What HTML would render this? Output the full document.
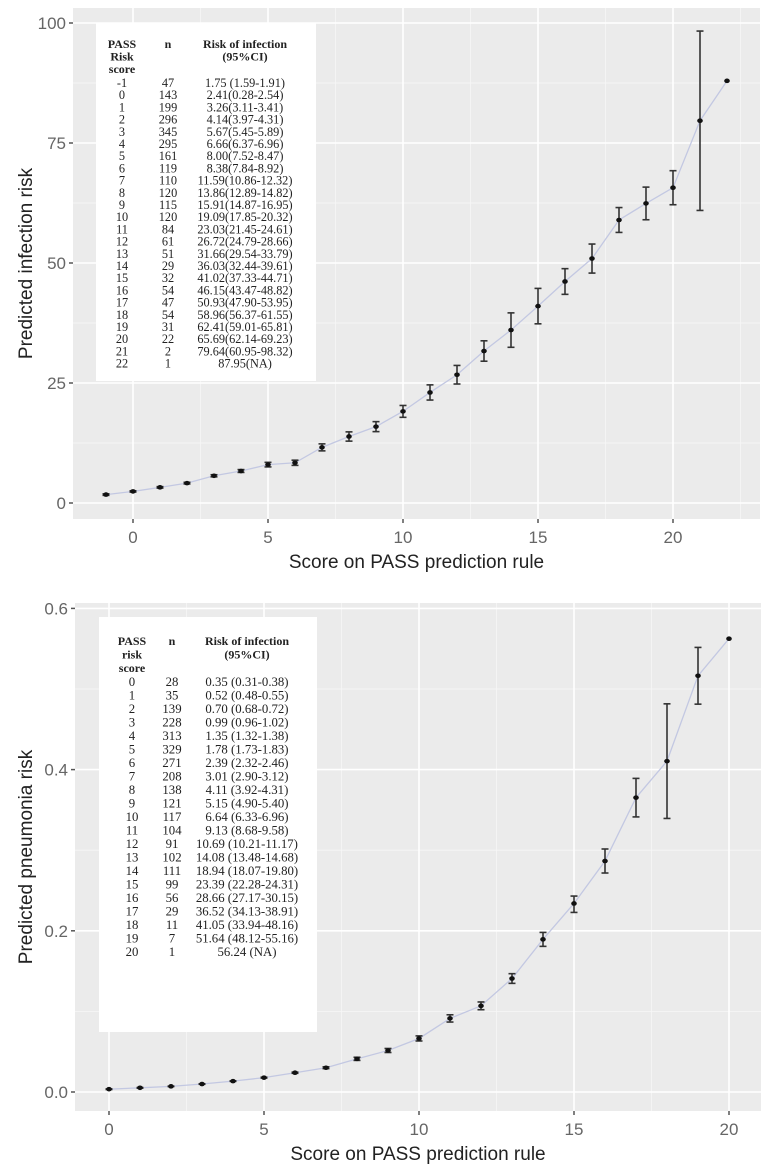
<!DOCTYPE html>
<html><head><meta charset="utf-8"><style>
body{margin:0;background:#fff;}
svg{display:block;font-family:"Liberation Sans",sans-serif;}
.tbl{font-family:"Liberation Serif",serif;fill:#222;}
</style></head><body>
<svg id="c" width="771" height="1166"></svg>
<script>
// top chart data
const topScores=[-1,0,1,2,3,4,5,6,7,8,9,10,11,12,13,14,15,16,17,18,19,20,21,22];
const topN=[47,143,199,296,345,295,161,119,110,120,115,120,84,61,51,29,32,54,47,54,31,22,2,1];
const topRisk=[1.75,2.41,3.26,4.14,5.67,6.66,8.00,8.38,11.59,13.86,15.91,19.09,23.03,26.72,31.66,36.03,41.02,46.15,50.93,58.96,62.41,65.69,79.64,87.95];
const topLo=[1.59,2.28,3.11,3.97,5.45,6.37,7.52,7.84,10.86,12.89,14.87,17.85,21.45,24.79,29.54,32.44,37.33,43.47,47.90,56.37,59.01,62.14,60.95,null];
const topHi=[1.91,2.54,3.41,4.31,5.89,6.96,8.47,8.92,12.32,14.82,16.95,20.32,24.61,28.66,33.79,39.61,44.71,48.82,53.95,61.55,65.81,69.23,98.32,null];
const topTxt=["1.75 (1.59-1.91)","2.41(0.28-2.54)","3.26(3.11-3.41)","4.14(3.97-4.31)","5.67(5.45-5.89)","6.66(6.37-6.96)","8.00(7.52-8.47)","8.38(7.84-8.92)","11.59(10.86-12.32)","13.86(12.89-14.82)","15.91(14.87-16.95)","19.09(17.85-20.32)","23.03(21.45-24.61)","26.72(24.79-28.66)","31.66(29.54-33.79)","36.03(32.44-39.61)","41.02(37.33-44.71)","46.15(43.47-48.82)","50.93(47.90-53.95)","58.96(56.37-61.55)","62.41(59.01-65.81)","65.69(62.14-69.23)","79.64(60.95-98.32)","87.95(NA)"];
const topYTicks=[0,25,50,75,100];
const topXTicks=[0,5,10,15,20];
// bottom chart data
const botScores=[0,1,2,3,4,5,6,7,8,9,10,11,12,13,14,15,16,17,18,19,20];
const botN=[28,35,139,228,313,329,271,208,138,121,117,104,91,102,111,99,56,29,11,7,1];
const botRisk=[0.35,0.52,0.70,0.99,1.35,1.78,2.39,3.01,4.11,5.15,6.64,9.13,10.69,14.08,18.94,23.39,28.66,36.52,41.05,51.64,56.24];
const botLo=[0.31,0.48,0.68,0.96,1.32,1.73,2.32,2.90,3.92,4.90,6.33,8.68,10.21,13.48,18.07,22.28,27.17,34.13,33.94,48.12,null];
const botHi=[0.38,0.55,0.72,1.02,1.38,1.83,2.46,3.12,4.31,5.40,6.96,9.58,11.17,14.68,19.80,24.31,30.15,38.91,48.16,55.16,null];
const botTxt=["0.35 (0.31-0.38)","0.52 (0.48-0.55)","0.70 (0.68-0.72)","0.99 (0.96-1.02)","1.35 (1.32-1.38)","1.78 (1.73-1.83)","2.39 (2.32-2.46)","3.01 (2.90-3.12)","4.11 (3.92-4.31)","5.15 (4.90-5.40)","6.64 (6.33-6.96)","9.13 (8.68-9.58)","10.69 (10.21-11.17)","14.08 (13.48-14.68)","18.94 (18.07-19.80)","23.39 (22.28-24.31)","28.66 (27.17-30.15)","36.52 (34.13-38.91)","41.05 (33.94-48.16)","51.64 (48.12-55.16)","56.24 (NA)"];
const botYTicks=[0,0.2,0.4,0.6];
const botXTicks=[0,5,10,15,20];

const svg=document.getElementById('c');
const NS='http://www.w3.org/2000/svg';
function mk(tag,at,parent){const e=document.createElementNS(NS,tag);for(const k in at)e.setAttribute(k,at[k]);(parent||svg).appendChild(e);return e;}

function panel(o){
  const g=mk('g',{});
  
  
  const X=v=>o.x0+(v-o.xv0)*o.xs, Y=v=>o.y0-(v-o.yv0)*o.ys;
  const bg=mk('rect',{x:o.L,y:o.T,width:o.R-o.L,height:o.B-o.T,fill:'#ebebeb'},g);
  
  for(let i=0;i<o.yt.length-1;i++){const v=(o.yt[i]+o.yt[i+1])/2;mk('line',{x1:o.L,x2:o.R,y1:Y(v),y2:Y(v),stroke:'#f7f7f7','stroke-width':0.8},g);}
  const minV=o.xt.map(v=>v-2.5).concat([o.xt[o.xt.length-1]+2.5]);
  minV.forEach(v=>{const x=X(v);if(x>o.L&&x<o.R)mk('line',{x1:x,x2:x,y1:o.T,y2:o.B,stroke:'#f7f7f7','stroke-width':0.8},g);});
  o.yt.forEach(v=>{mk('line',{x1:o.L,x2:o.R,y1:Y(v),y2:Y(v),stroke:'#fff','stroke-width':1.6},g);
    mk('line',{x1:o.L-4,x2:o.L,y1:Y(v),y2:Y(v),stroke:'#555','stroke-width':1.5},g);
    const t=mk('text',{x:o.L-7,y:Y(v)+6,'text-anchor':'end','font-size':17,fill:'#666'},g);t.textContent=o.yfmt(v);
    });
  o.xt.forEach(v=>{mk('line',{x1:X(v),x2:X(v),y1:o.T,y2:o.B,stroke:'#fff','stroke-width':1.6},g);
    mk('line',{x1:X(v),x2:X(v),y1:o.B,y2:o.B+4,stroke:'#555','stroke-width':1.5},g);
    const t=mk('text',{x:X(v),y:o.B+24,'text-anchor':'middle','font-size':17,fill:'#666'},g);t.textContent=v;
    });
  const tb=mk('g',{class:'tbl'},g);
  
  mk('rect',{x:o.tb.x,y:o.tb.y,width:o.tb.w,height:o.tb.h,fill:'#fff'},tb);
  o.hdr1.forEach((s,i)=>{const t=mk('text',{x:o.tb.c1,y:o.tb.hy+i*o.tb.hh,'text-anchor':'middle','font-size':12,'font-weight':'bold'},tb);t.textContent=s;});
  const hn=mk('text',{x:o.tb.c2,y:o.tb.hy,'text-anchor':'middle','font-size':12,'font-weight':'bold'},tb);hn.textContent='n';
  ['Risk of infection','(95%CI)'].forEach((s,i)=>{const t=mk('text',{x:o.tb.c3,y:o.tb.hy+i*o.tb.hh,'text-anchor':'middle','font-size':12,'font-weight':'bold'},tb);t.textContent=s;});
  o.sc.forEach((s,i)=>{const y=o.tb.ry+i*o.tb.rh;
    [[o.tb.c1,s],[o.tb.c2,o.n[i]],[o.tb.c3,o.txt[i]]].forEach(([x,s2])=>{const t=mk('text',{x:x,y:y,'text-anchor':'middle','font-size':o.tb.fs},tb);t.textContent=s2;});});
  const pl=mk('polyline',{points:o.sc.map((s,i)=>X(s)+','+Y(o.v[i])).join(' '),fill:'none',stroke:'#c3c8e2','stroke-width':1.3},g);
  
  o.sc.forEach((s,i)=>{
    if(o.lo[i]!==null){const x=X(s);
      const eb=mk('g',{stroke:'#333','stroke-width':1.6},g);
      
      mk('line',{x1:x,x2:x,y1:Y(o.lo[i]),y2:Y(o.hi[i])},eb);
      mk('line',{x1:x-3.5,x2:x+3.5,y1:Y(o.lo[i]),y2:Y(o.lo[i])},eb);
      mk('line',{x1:x-3.5,x2:x+3.5,y1:Y(o.hi[i]),y2:Y(o.hi[i])},eb);}
    const p=mk('ellipse',{cx:X(s),cy:Y(o.v[i]),rx:2.8,ry:2.3,fill:'#111'},g);
    
  });
  const xt=mk('text',{x:(o.L+o.R)/2,y:o.B+49,'text-anchor':'middle','font-size':19,fill:'#222'},g);xt.textContent='Score on PASS prediction rule';
  
  const cy=(o.T+o.B)/2;
  const yt=mk('text',{x:32,y:cy,'text-anchor':'middle','font-size':19,fill:'#222',transform:'rotate(-90 32 '+cy+')'},g);yt.textContent=o.ytitle;
  
}
panel({name:'infection-risk-panel',L:73,R:760,T:8,B:519,x0:133,xv0:0,xs:27,y0:503,yv0:0,ys:4.8,
  yt:topYTicks,xt:topXTicks,yfmt:v=>String(v),sc:topScores,n:topN,v:topRisk,lo:topLo,hi:topHi,txt:topTxt,
  hdr1:['PASS','Risk','score'],ytitle:'Predicted infection risk',
  tb:{x:96,y:23,w:220,h:358,c1:122,c2:168,c3:245,hy:48,hh:12.5,ry:87,rh:12.2,fs:12.3}});
panel({name:'pneumonia-risk-panel',L:75,R:761,T:603,B:1111,x0:109,xv0:0,xs:31,y0:1092,yv0:0,ys:806,
  yt:botYTicks,xt:botXTicks,yfmt:v=>v.toFixed(1),sc:botScores,n:botN,v:botRisk.map(r=>r/100),lo:botLo.map(r=>r===null?null:r/100),hi:botHi.map(r=>r===null?null:r/100),txt:botTxt,
  hdr1:['PASS','risk','score'],ytitle:'Predicted pneumonia risk',
  tb:{x:99,y:617,w:218,h:415,c1:132,c2:172,c3:247,hy:645,hh:13.5,ry:686,rh:13.5,fs:12.8}});
</script>
</body></html>
